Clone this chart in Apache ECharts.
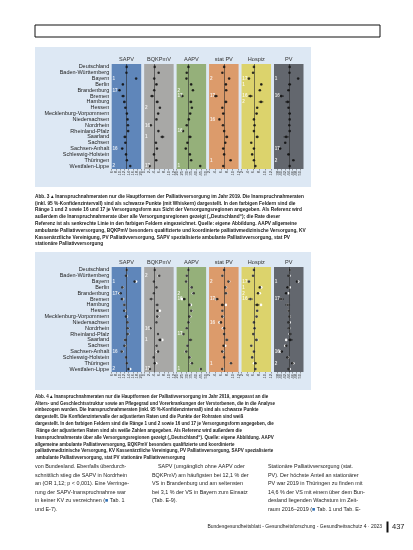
<!DOCTYPE html>
<html><head><meta charset="utf-8">
<script src="https://cdn.jsdelivr.net/npm/echarts@6/dist/echarts.min.js"></script>
<style>html,body{margin:0;padding:0;background:#fff}#c{width:413px;height:550px}</style>
</head><body><div id="c"></div>
<script>
// ---------- data ----------
const regions = ['Deutschland','Baden-Württemberg','Bayern','Berlin','Brandenburg','Bremen','Hamburg','Hessen',
  'Mecklenburg-Vorpommern','Niedersachsen','Nordrhein','Rheinland-Pfalz','Saarland','Sachsen','Sachsen-Anhalt',
  'Schleswig-Holstein','Thüringen','Westfalen-Lippe'];
const panels = ['SAPV','BQKPmV','AAPV','stat PV','Hospiz','PV'];
const axisMin  = [6, 0, 20, 2, 2, 36];
const axisMax  = [20, 12, 50, 12, 12, 52];
const axisStep = [2, 2, 5, 2, 2, 2];

// Abb. 3 – rohe Inanspruchnahmeraten (%)
const sapvCrude  = [13.1,13.0,17.6,11.3,9.7,11.4,12.0,12.5,13.2,13.5,13.7,13.8,12.3,12.5,11.0,12.8,13.2,14.8];
const bqkCrude   = [4.3,5.9,4.1,5.0,4.1,3.2,5.3,6.4,5.7,5.0,2.7,5.8,7.4,4.8,5.2,4.0,4.9,2.2];
const aapvCrude  = [32.0,30.3,30.0,34.8,36.6,25.5,34.5,35.5,33.8,32.4,30.3,26.5,33.5,31.0,29.3,33.5,34.8,44.0];
const statCrude  = [7.1,6.5,8.8,7.7,7.8,4.3,7.7,6.5,6.8,5.5,6.7,7.1,8.0,7.5,6.8,7.1,9.3,6.8];
const hospCrude  = [6.2,5.9,4.5,8.7,8.2,5.0,8.6,7.3,7.1,6.2,6.4,6.2,7.3,5.3,6.2,5.6,6.2,6.7];
const pvCrude    = [44.5,44.4,49.1,44.5,43.9,39.9,43.4,43.9,44.5,44.5,44.3,44.5,42.6,42.1,39.3,43.9,46.5,44.5];

// Abb. 4 – adjustierte Inanspruchnahmeraten (%)
const sapvAdj = [13.1,12.8,16.9,11.1,10.2,11.0,12.0,12.0,12.8,13.5,13.6,13.6,12.4,12.1,10.8,12.8,13.2,14.0];
const bqkAdj  = [4.3,6.1,4.0,5.0,4.0,3.0,5.3,5.4,5.4,5.0,2.6,5.7,6.5,5.0,5.6,3.9,4.3,2.3];
const aapvAdj = [32.0,30.3,29.7,35.2,37.2,27.6,33.1,35.0,33.1,32.1,30.3,26.9,33.8,31.0,29.7,33.1,35.5,44.5];
const statAdj = [7.1,6.5,8.6,7.5,7.7,4.6,6.5,6.5,6.5,6.0,7.1,7.1,8.0,6.9,6.5,7.1,9.4,6.5];
const hospAdj = [6.2,5.9,4.5,8.2,7.6,5.0,7.3,7.3,7.1,6.2,6.4,6.0,7.1,5.3,6.2,5.6,6.7,6.7];
const pvAdj   = [44.5,43.9,48.5,43.4,42.6,39.9,43.4,43.9,44.3,43.9,44.1,44.8,44.8,42.6,40.2,43.4,46.0,43.9];

// halbe Breite der 95%-Konfidenzintervalle
const sapvErr = [0.1,0.2,0.2,0.4,0.4,0.8,0.6,0.3,0.4,0.2,0.2,0.3,0.7,0.3,0.4,0.4,0.4,0.2];
const bqkErr  = [0.05,0.15,0.1,0.3,0.25,0.8,0.6,0.2,0.3,0.15,0.1,0.25,0.8,0.2,0.3,0.3,0.3,0.1];
const aapvErr = [0.2,0.4,0.4,0.8,0.8,1.8,1.4,0.6,0.9,0.5,0.4,0.7,2.0,0.6,0.8,0.8,0.8,0.4];
const statErr = [0.05,0.15,0.15,0.3,0.3,0.7,0.5,0.2,0.3,0.15,0.15,0.2,0.5,0.2,0.3,0.3,0.3,0.15];
const hospErr = [0.05,0.15,0.1,0.3,0.3,0.8,0.8,0.2,0.3,0.15,0.15,0.2,0.5,0.2,0.3,0.3,0.3,0.15];
const pvErr   = [0.1,0.3,0.3,0.8,0.7,1.5,1.3,0.4,0.7,0.3,0.3,0.5,1.4,0.4,0.6,0.7,0.6,0.3];

const panelColors = ['#5f86ba','#a8a8a6','#95b07a','#dc9b6b','#dcd36c','#63676e'];

const cap1 = 'Abb. 3 \u25B4 Inanspruchnahmeraten nur die Hauptformen der Palliativversorgung im Jahr 2019. Die Inanspruchnahmeraten (inkl. 95 %-Konfidenzintervall) sind als schwarze Punkte (mit Whiskern) dargestellt. In den farbigen Feldern sind die Ränge 1 und 2 sowie 16 und 17 je Versorgungsform aus Sicht der Versorgungsregionen angegeben. Als Referenz wird außerdem die Inanspruchnahmerate über alle Versorgungsregionen gezeigt („Deutschland“); die Rate dieser Referenz ist als senkrechte Linie in den farbigen Feldern eingezeichnet. Quelle: eigene Abbildung. AAPV allgemeine ambulante Palliativversorgung, BQKPmV besonders qualifizierte und koordinierte palliativmedizinische Versorgung, KV Kassenärztliche Vereinigung, PV Palliativversorgung, SAPV spezialisierte ambulante Palliativversorgung, stat PV stationäre Palliativversorgung';
const cap2 = 'Abb. 4 \u25B4 Inanspruchnahmeraten nur die Hauptformen der Palliativversorgung im Jahr 2019, angepasst an die Alters- und Geschlechtsstruktur sowie an Pflegegrad und Vorerkrankungen der Verstorbenen, die in die Analyse einbezogen wurden. Die Inanspruchnahmeraten (inkl. 95 %-Konfidenzintervall) sind als schwarze Punkte dargestellt. Die Konfidenzintervalle der adjustierten Raten und die Punkte der Rohraten sind weiß dargestellt. In den farbigen Feldern sind die Ränge 1 und 2 sowie 16 und 17 je Versorgungsform angegeben, die Ränge der adjustierten Raten sind als weiße Zahlen angegeben. Als Referenz wird außerdem die Inanspruchnahmerate über alle Versorgungsregionen gezeigt („Deutschland“). Quelle: eigene Abbildung. AAPV allgemeine ambulante Palliativversorgung, BQKPmV besonders qualifizierte und koordinierte palliativmedizinische Versorgung, KV Kassenärztliche Vereinigung, PV Palliativversorgung, SAPV spezialisierte ambulante Palliativversorgung, stat PV stationäre Palliativversorgung';
const body1 = 'von Bundesland. Ebenfalls überdurch-\nschnittlich stieg die SAPV in Nordrhein\nan (OR 1,12; p < 0,001). Eine Verringe-\nrung der SAPV-Inanspruchnahme war\nin keiner KV zu verzeichnen ({l|\u25A0} Tab. 1\nund E-7).';
const body2 = '    SAPV (umgänglich ohne AAPV oder\nBQKPmV) am häufigsten bei 12,1 % der\nVS in Brandenburg und am seltensten\nbei 3,1 % der VS in Bayern zum Einsatz\n(Tab. E-9).';
const body3 = 'Stationäre Palliativversorgung (stat.\nPV). Der höchste Anteil an stationärer\nPV war 2019 in Thüringen zu finden mit\n14,6 % der VS mit einem über dem Bun-\ndesland liegenden Wachstum im Zeit-\nraum 2016–2019 ({l|\u25A0} Tab. 1 und Tab. E-';
const footer = 'Bundesgesundheitsblatt - Gesundheitsforschung - Gesundheitsschutz 4 · 2023';
const pageNo = '437';

// ---------- build ----------
const crude = [sapvCrude,bqkCrude,aapvCrude,statCrude,hospCrude,pvCrude];
const adj   = [sapvAdj,bqkAdj,aapvAdj,statAdj,hospAdj,pvAdj];
const errs  = [sapvErr,bqkErr,aapvErr,statErr,hospErr,pvErr];
const FONT = '"Liberation Sans", Arial, sans-serif';

const figTop = [64, 267];
const panelLeft0 = 111.7, pitch = 32.46, panelW = 29.5, panelH = 105;

function ranks(vals){
  const idx = vals.map((v,i)=>i).slice(1).sort((a,b)=>vals[b]-vals[a]);
  const r = {};
  idx.forEach((ri,k)=>{ const rk=k+1; if(rk<=2||rk>=idx.length-1) r[ri]=String(rk); });
  return r;
}

const grid=[], xAxis=[], yAxis=[], series=[], graphic=[];
graphic.push({type:'rect', shape:{x:35,y:25,width:345,height:12}, style:{fill:'none',stroke:'#111',lineWidth:1}});
graphic.push({type:'rect', shape:{x:35,y:47,width:276,height:140}, style:{fill:'#dde8f4'}, z:-10});
graphic.push({type:'rect', shape:{x:35,y:252,width:276,height:138}, style:{fill:'#dde8f4'}, z:-10});

[0,1].forEach(f=>{
  panels.forEach((name,p)=>{
    const gi = f*6+p;
    const left = panelLeft0 + pitch*p;
    grid.push({left:left, top:figTop[f], width:panelW, height:panelH, show:true,
      backgroundColor:panelColors[p], borderWidth:0});
    graphic.push({type:'text', x:left+panelW/2, y:figTop[f]-5,
      style:{text:name, fontSize:5.6, fontFamily:FONT, fill:'#333', align:'center', verticalAlign:'middle'}});
    xAxis.push({gridIndex:gi, type:'value', min:axisMin[p], max:axisMax[p], interval:axisStep[p],
      axisLine:{show:false}, splitLine:{show:false},
      axisTick:{show:true, length:1.5, lineStyle:{color:'#444',width:0.5}},
      axisLabel:{rotate:90, fontSize:4, color:'#333', margin:2, fontFamily:FONT,
        formatter:v=>String(v).replace('.',',')}});
    yAxis.push({gridIndex:gi, type:'category', data:regions, inverse:true,
      axisLine:{show:false}, axisTick:{show:false}, splitLine:{show:false},
      axisLabel:{show:p===0, fontSize:5.5, color:'#222', margin:2.5, fontFamily:FONT, interval:0}});
    const vals = f===0 ? crude[p] : adj[p];
    const e = errs[p];
    series.push({type:'custom', xAxisIndex:gi, yAxisIndex:gi, silent:true,
      data: regions.map((r,i)=>[i, vals[i]-e[i], vals[i]+e[i]]),
      encode:{x:[1,2], y:0},
      renderItem:(params, api)=>{
        const a = api.coord([api.value(1), api.value(0)]);
        const b = api.coord([api.value(2), api.value(0)]);
        return {type:'line', shape:{x1:a[0],y1:a[1],x2:b[0],y2:b[1]}, style:{stroke:'#111',lineWidth:0.8}};
      },
      markLine:{silent:true, symbol:'none', label:{show:false},
        lineStyle:{color:'#2b2b2b', width:0.7, type:'solid', opacity:0.85},
        data:[{xAxis: vals[0]}]},
      z:3});
    if(f===1){
      series.push({type:'scatter', xAxisIndex:gi, yAxisIndex:gi, silent:true,
        data: regions.map((r,i)=>[crude[p][i], r]),
        symbolSize:2.6, itemStyle:{color:'#ffffff', opacity:0.95}, z:4});
    }
    series.push({type:'scatter', xAxisIndex:gi, yAxisIndex:gi, silent:true,
      data: regions.map((r,i)=>[vals[i], r]),
      symbolSize:2.6, itemStyle:{color:'#111'}, z:5});
    const rk = ranks(vals);
    series.push({type:'scatter', xAxisIndex:gi, yAxisIndex:gi, silent:true, symbolSize:0,
      data: Object.keys(rk).map(i=>[axisMin[p], regions[i], rk[i]]),
      label:{show:true, position:'right', distance:0.8, color:'#fff', fontSize:4.6, fontWeight:'bold',
        fontFamily:FONT, formatter:d=>d.value[2]}, z:6});
  });
});

// captions
graphic.push({type:'text', x:35, y:193, style:{text:cap1, width:276, overflow:'break',
  fontSize:4.75, fontWeight:'bold', fontFamily:FONT, lineHeight:6.8, fill:'#1b1b1b', verticalAlign:'top'}});
graphic.push({type:'text', x:35, y:393, style:{text:cap2, width:276, overflow:'break',
  fontSize:4.5, fontWeight:'bold', fontFamily:FONT, lineHeight:6.85, fill:'#1b1b1b', verticalAlign:'top'}});
// body columns
const rich = {l:{fill:'#2f6fb5', fontSize:5.4}};
[[35,body1],[152,body2],[268,body3]].forEach(([x,t])=>{
  graphic.push({type:'text', x:x, y:462.5, style:{text:t, fontSize:5.4, fontFamily:FONT, lineHeight:8.5,
    fill:'#1e1e1e', verticalAlign:'top', rich:rich}});
});
// footer
graphic.push({type:'text', x:382, y:527, style:{text:footer, fontSize:5, fontFamily:FONT, fill:'#222',
  align:'right', verticalAlign:'middle'}});
graphic.push({type:'rect', shape:{x:386.5,y:521.5,width:2,height:11}, style:{fill:'#111'}});
graphic.push({type:'text', x:392, y:527, style:{text:pageNo, fontSize:7.5, fontFamily:FONT, fill:'#222',
  verticalAlign:'middle'}});

const chart = echarts.init(document.getElementById('c'), null, {renderer:'canvas'});
chart.setOption({animation:false, backgroundColor:'#fff', grid, xAxis, yAxis, series, graphic});
</script></body></html>
